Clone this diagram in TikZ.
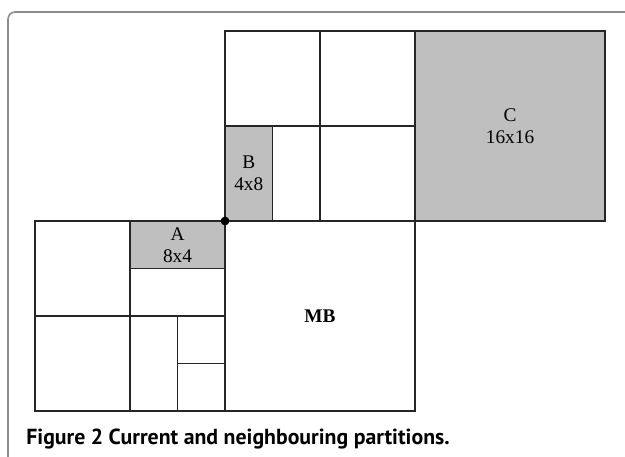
\documentclass[tikz,border=0pt]{standalone}
\usepackage{fontspec}
\setmainfont{Liberation Serif}
\setsansfont{PT Sans}
\usepackage{tikz}
\tikzstyle{part}=[draw=black!85,line width=0.8pt]
\tikzstyle{neighbour}=[part,fill=black!25]
\tikzstyle{blocklabel}=[font=\fontsize{11}{12.5}\selectfont,align=center]
\tikzstyle{corner}=[circle,fill=black,inner sep=0pt,minimum size=5pt]
\tikzstyle{frame}=[draw=black!45,line width=0.9pt]

\begin{document}
\begin{tikzpicture}[x=0.95cm,y=0.95cm]
    \useasboundingbox (-0.737,-0.968) rectangle (12.421,8.653);

    % frame of the figure
    \path[frame] (-0.568,-0.968) -- (-0.568,8.25) arc[start angle=180,end angle=90,radius=0.15] -- (12.421,8.4);

    % partitions
    \foreach \sw/\ne in {{(0,2)/(2,4)},{(2,2)/(4,3)},{(0,0)/(2,2)},{(2,0)/(3,2)},{(3,1)/(4,2)},{(3,0)/(4,1)},
                         {(4,0)/(8,4)},{(4,6)/(6,8)},{(6,6)/(8,8)},{(6,4)/(8,6)},{(5,4)/(6,6)}}
        \path[part] \sw rectangle \ne;

    % neighbouring partitions
    \foreach \sw/\ne in {{(2,3)/(4,4)},{(4,4)/(5,6)},{(8,4)/(12,8)}}
        \path[neighbour] \sw rectangle \ne;

    \foreach \pos/\name/\size in {{(3,3.5)/A/8x4},{(4.5,5)/B/4x8},{(10,6)/C/16x16}}
        \node[blocklabel] (\name) at \pos {\name\\\size};

    \node[blocklabel] (MB) at (6,2) {\bfseries MB};
    \node[corner] (P) at (4,4) {};

    \node[anchor=base west,inner sep=0pt,font=\sffamily\bfseries\fontsize{12.4}{14}\selectfont] (caption) at (-0.19,-0.695)
        {Figure 2 Current and neighbouring partitions.};
\end{tikzpicture}
\end{document}
